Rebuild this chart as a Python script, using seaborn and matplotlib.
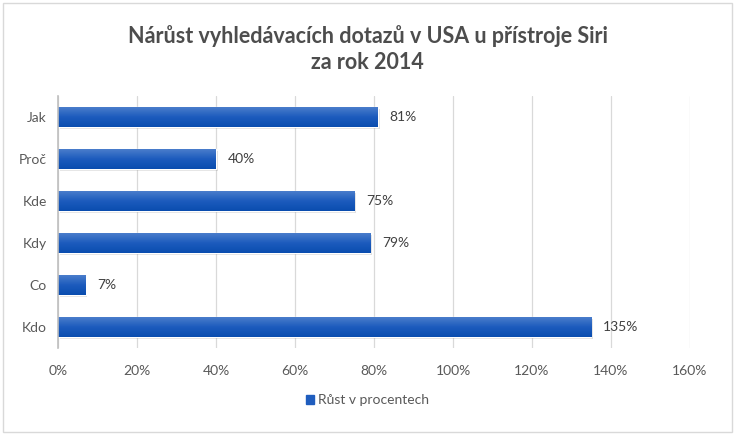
import numpy as np
import pandas as pd
import matplotlib
matplotlib.use("Agg")
import matplotlib.pyplot as plt
import seaborn as sns
from matplotlib.patches import Rectangle
from matplotlib.ticker import FuncFormatter
from matplotlib.colors import LinearSegmentedColormap

categories = ["Jak", "Proč", "Kde", "Kdy", "Co", "Kdo"]
values = [81, 40, 75, 79, 7, 135]
series_name = "Růst v procentech"
title = "Nárůst vyhledávacích dotazů v USA u přístroje Siri\nza rok 2014"

df = pd.DataFrame({"kat": categories, "val": values, "s": series_name})

sns.set_theme(style="white")
plt.rcParams["font.family"] = ["Lato", "DejaVu Sans"]

fig = plt.figure(figsize=(7.35, 4.34), dpi=100)
ax = fig.add_axes([58/735, 1 - 348/434, (690-58)/735, (348-96)/434])

sns.barplot(data=df, y="kat", x="val", hue="s", orient="h", ax=ax,
            palette=["#1F5DBE"], width=0.47, legend=False)

ax.set_xlim(0, 160)
ax.set_xticks(np.arange(0, 161, 20))
ax.xaxis.set_major_formatter(FuncFormatter(lambda v, p: f"{int(v)}%"))
ax.grid(axis="x", color="#D9D9D9", linewidth=0.9)
ax.set_axisbelow(True)
for s in ["top", "right", "bottom"]:
    ax.spines[s].set_visible(False)
ax.spines["left"].set_color("#BFBFBF")
ax.spines["left"].set_linewidth(1.2)
ax.set_xlabel("")
ax.set_ylabel("")
ax.tick_params(axis="both", length=0, labelsize=10, colors="#595959", pad=8)
ax.tick_params(axis="x", pad=12)

# gradient + shadow on bars
grad = np.linspace(0, 1, 64).reshape(-1, 1)
cmap = LinearSegmentedColormap.from_list("g", ["#4A7DCB", "#1C5BBD", "#0A4DAF"])
for p, v in zip(ax.patches, values):
    x0, y0 = p.get_x(), p.get_y()
    w, h = p.get_width(), p.get_height()
    sh = Rectangle((x0 + 0.4, y0 + 0.05), w, h, color="#000000", alpha=0.12,
                   zorder=p.get_zorder() - 0.1, linewidth=0)
    ax.add_patch(sh)
    im = ax.imshow(grad, cmap=cmap, aspect="auto",
                   extent=(x0, x0 + w, y0 + h, y0), zorder=p.get_zorder() + 0.1)
    im.set_clip_path(p)
    ax.text(x0 + w + 3, y0 + h / 2, f"{v}%", va="center", ha="left",
            fontsize=10, color="#404040")
ax.set_xlim(0, 160)
ax.set_ylim(5.5, -0.5)

fig.text(0.5, 1 - 49/434, title, ha="center", va="center", fontsize=15.5,
         fontweight="bold", color="#4D4D4D", linespacing=1.3)

# legend
handle = Rectangle((0, 0), 1, 1, color="#1F5DBE")
fig.legend([handle], [series_name], loc="center", bbox_to_anchor=(0.5, 1 - 400/434),
           frameon=False, fontsize=10, handlelength=0.6, handleheight=0.6,
           handletextpad=0.3, labelcolor="#595959")

# figure border
fig.patches.append(Rectangle((0.004, 0.004), 0.992, 0.99, transform=fig.transFigure,
                             fill=False, edgecolor="#D9D9D9", linewidth=1))

fig.savefig("out.png", dpi=100)
